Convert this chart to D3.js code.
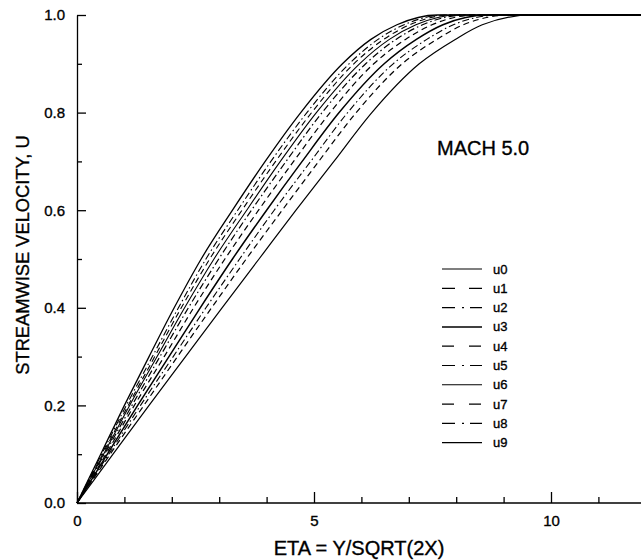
<!DOCTYPE html>
<html><head><meta charset="utf-8">
<script src="https://cdn.jsdelivr.net/npm/d3@7"></script>
<style>
html,body{margin:0;padding:0;background:#fff;}
svg{display:block;font-family:"Liberation Sans",Arial,Helvetica,sans-serif;}
</style></head>
<body><svg id="c" width="641" height="560"></svg>
<script>
const uLevels = [0, 0.1, 0.2, 0.3, 0.4, 0.5, 0.6, 0.7, 0.8, 0.9, 0.95, 0.98, 1.0];
const seriesNames = ["u0","u1","u2","u3","u4","u5","u6","u7","u8","u9"];
const eta_u0 = [0, 0.76, 1.52, 2.29, 3.06, 3.84, 4.62, 5.42, 6.22, 7.22, 7.98, 8.55, 9.60];
const eta_u1 = [0, 0.70, 1.41, 2.12, 2.84, 3.57, 4.33, 5.10, 5.89, 6.86, 7.59, 8.15, 9.16];
const eta_u2 = [0, 0.67, 1.34, 2.03, 2.72, 3.43, 4.16, 4.93, 5.71, 6.67, 7.38, 7.94, 8.92];
const eta_u3 = [0, 0.64, 1.28, 1.94, 2.60, 3.28, 4.00, 4.75, 5.53, 6.48, 7.16, 7.72, 8.68];
const eta_u4 = [0, 0.61, 1.21, 1.84, 2.46, 3.12, 3.83, 4.57, 5.34, 6.26, 6.93, 7.49, 8.42];
const eta_u5 = [0, 0.58, 1.16, 1.75, 2.35, 2.99, 3.68, 4.41, 5.17, 6.09, 6.73, 7.29, 8.20];
const eta_u6 = [0, 0.56, 1.11, 1.69, 2.27, 2.89, 3.58, 4.29, 5.05, 5.96, 6.59, 7.15, 8.04];
const eta_u7 = [0, 0.54, 1.08, 1.64, 2.20, 2.80, 3.48, 4.19, 4.95, 5.84, 6.47, 7.02, 7.90];
const eta_u8 = [0, 0.52, 1.04, 1.59, 2.14, 2.72, 3.39, 4.09, 4.85, 5.74, 6.35, 6.90, 7.77];
const eta_u9 = [0, 0.50, 1.00, 1.52, 2.05, 2.62, 3.28, 3.97, 4.72, 5.60, 6.20, 6.75, 7.60];
const etaEnd = 13.6; // profiles stay at U = 1 to the right edge
const xMajorTicks = [0, 5, 10];
const xMinorTicks = [1, 2, 3, 4, 6, 7, 8, 9, 11, 12, 13];
const yMajorTicks = [0, 0.2, 0.4, 0.6, 0.8, 1.0];
const yMinorTicks = [0.1, 0.3, 0.5, 0.7, 0.9];
const xTitle = "ETA = Y/SQRT(2X)";
const yTitle = "STREAMWISE VELOCITY, U";
const annotation = "MACH 5.0";

const allEta = [eta_u0,eta_u1,eta_u2,eta_u3,eta_u4,eta_u5,eta_u6,eta_u7,eta_u8,eta_u9];
const styles = [
  {dash:null, lg:null, w:1.2},
  {dash:"6,4", lg:"13,14", w:1.2},
  {dash:"7,3,1.5,3", lg:"13,7,2,6", w:1.1},
  {dash:null, lg:null, w:1.5},
  {dash:"6,4", lg:"12,15", w:1.2},
  {dash:"7,3,1.5,3", lg:"13,7,2,6", w:1.2},
  {dash:null, lg:null, w:1.1},
  {dash:"6,4", lg:"12,15", w:1.1},
  {dash:"7,3,1.5,3", lg:"13,7,2,6", w:1.1},
  {dash:null, lg:null, w:1.3}
];

const svg = d3.select("#c");
const x = d3.scaleLinear().domain([0, 12]).range([77, 77 + 12*47.4]);
const y = d3.scaleLinear().domain([0, 1]).range([503, 15]);

function heavy(sel){ sel.attr("fill","#000").attr("stroke","#000").attr("stroke-width",0.35); }
function styleAxis(g){
  g.selectAll("path,line").attr("stroke","#000").attr("stroke-width",1.3);
  g.selectAll("text").attr("font-size",15).call(heavy);
}
svg.append("g").attr("transform",`translate(0,${y(0)})`)
  .call(d3.axisBottom(x).tickValues(xMajorTicks).tickSizeInner(-11).tickSizeOuter(0).tickPadding(12).tickFormat(d3.format("d")))
  .call(g=>g.select(".domain").attr("d",`M${x(0)},0H641`))
  .call(styleAxis);
svg.append("g").attr("transform",`translate(0,${y(0)})`)
  .call(d3.axisBottom(x).tickValues(xMinorTicks).tickSizeInner(-6).tickSizeOuter(0).tickFormat(""))
  .call(g=>g.select(".domain").remove())
  .call(styleAxis);
svg.append("g").attr("transform",`translate(${x(0)},0)`)
  .call(d3.axisLeft(y).tickValues(yMajorTicks).tickSizeInner(-9).tickSizeOuter(0).tickPadding(12).tickFormat(d3.format(".1f")))
  .call(styleAxis);
svg.append("g").attr("transform",`translate(${x(0)},0)`)
  .call(d3.axisLeft(y).tickValues(yMinorTicks).tickSizeInner(-5).tickSizeOuter(0).tickFormat(""))
  .call(g=>g.select(".domain").remove())
  .call(styleAxis);

// titles
svg.append("text").attr("x",359).attr("y",555).attr("text-anchor","middle")
  .attr("font-size",20).text(xTitle).call(heavy);
svg.append("text").attr("transform",`translate(29,255) rotate(-90)`).attr("text-anchor","middle")
  .attr("font-size",18.3).text(yTitle).call(heavy);
svg.append("text").attr("x",437).attr("y",155).attr("font-size",20).text(annotation).call(heavy);

// curves
const line = d3.line().x(d=>x(d[0])).y(d=>y(d[1])).curve(d3.curveMonotoneX);
allEta.forEach((et,i)=>{
  const pts = et.map((e,j)=>[e, uLevels[j]]);
  pts.push([etaEnd, 1.0]);
  svg.append("path").datum(pts).attr("d",line)
    .attr("fill","none").attr("stroke","#000")
    .attr("stroke-width",styles[i].w)
    .attr("stroke-dasharray",styles[i].dash);
});

// legend
const lg = svg.append("g");
seriesNames.forEach((n,i)=>{
  const yy = 269 + i*19.3;
  lg.append("line").attr("x1",442).attr("x2",482).attr("y1",yy).attr("y2",yy)
    .attr("stroke","#000").attr("stroke-width",styles[i].w)
    .attr("stroke-dasharray",styles[i].lg);
  lg.append("text").attr("x",493).attr("y",yy+4.5).attr("font-size",13).text(n).call(heavy);
});
</script></body></html>
